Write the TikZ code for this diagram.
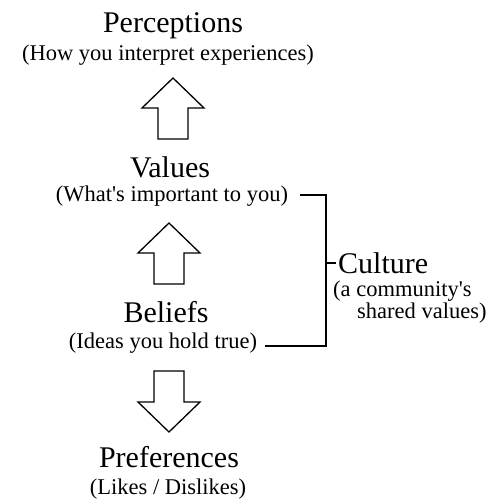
\documentclass[tikz,border=0pt]{standalone}
\usepackage{fontspec}
\setmainfont{Liberation Serif}
\newcommand\mytitlefont{\fontsize{30}{36}\selectfont}
\newcommand\mysubfont{\fontsize{22.5}{20}\selectfont}
\tikzset{
  title/.style={anchor=base, inner sep=0pt, font=\mytitlefont},
  sub/.style={anchor=base, inner sep=0pt, font=\mysubfont},
  arrowline/.style={draw=black, line width=1.3pt, line join=miter},
  bracket/.style={draw=black, line width=1.3pt},
  uparrow/.pic={\path[arrowline] (0,0) -- (-31,30) -- (-15,30) -- (-15,61) -- (15,61) -- (15,30) -- (31,30) -- cycle;},
  downarrow/.pic={\path[arrowline] (0,0) -- (-31,-30) -- (-15,-30) -- (-15,-61) -- (15,-61) -- (15,-30) -- (31,-30) -- cycle;}
}
\begin{document}
\begin{tikzpicture}[x=1pt,y=-1pt]
\useasboundingbox (0,0) rectangle (499,503);
% titles and subtitles
\node[title] (perc) at (173,33) {Perceptions};
\node[sub] (percsub) at (168,61) {(How you interpret experiences)};
\node[title] (val) at (170,177) {Values};
\node[sub] (valsub) at (172,201) {(What\textquotesingle s important to you)};
\node[title] (bel) at (166,322) {Beliefs};
\node[sub] (belsub) at (163,348) {(Ideas you hold true)};
\node[title] (pref) at (169,467) {Preferences};
\node[sub] (prefsub) at (168,494) {(Likes / Dislikes)};
\node[anchor=base west, inner sep=0pt, font=\mytitlefont] (cult) at (338,273) {Culture};
\node[anchor=base west, inner sep=0pt, font=\mysubfont, align=left] (cultsub) at (333,318)
  {(a community\textquotesingle s\\\hspace*{24pt}shared values)};
% block arrows
\pic at (173,78) {uparrow};
\pic at (169,223) {uparrow};
\pic at (169,432) {downarrow};
% bracket
\coordinate (brtop) at (326,195);
\coordinate (brbot) at (326,346);
\coordinate (brmid) at (326,263);
\coordinate (brtick) at (336,263);
\coordinate (topstart) at (300,195);
\coordinate (botstart) at (265,346);
\draw[bracket] (topstart) -- (brtop) -- (brbot) -- (botstart);
\draw[bracket] (brmid) -- (brtick);
\end{tikzpicture}
\end{document}
